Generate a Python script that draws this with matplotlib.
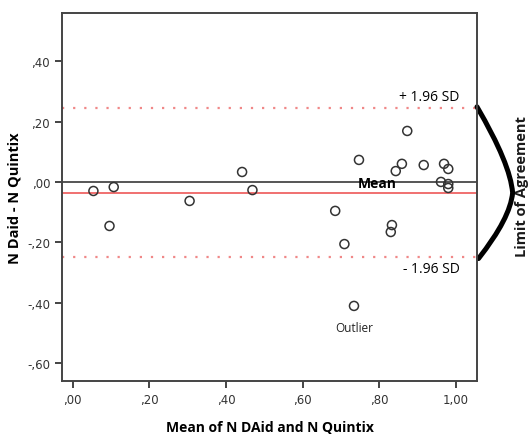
import numpy as np
import matplotlib

matplotlib.use('Agg')
import matplotlib.pyplot as plt
from matplotlib.path import Path
from matplotlib.patches import PathPatch
from matplotlib.ticker import FuncFormatter

# mean of the two methods (x) and their difference (y)
mean_vals = [0.054, 0.107, 0.096, 0.305, 0.442, 0.469, 0.685, 0.709, 0.734,
             0.747, 0.833, 0.830, 0.843, 0.859, 0.873, 0.916, 0.969, 0.961,
             0.980, 0.980, 0.980]
diff_vals = [-0.030, -0.017, -0.146, -0.063, 0.033, -0.027, -0.096, -0.206,
             -0.411, 0.073, -0.143, -0.166, 0.036, 0.060, 0.169, 0.056, 0.060,
             0.000, 0.043, -0.007, -0.020]
mean_diff = -0.036
upper_loa = 0.245
lower_loa = -0.249
outlier_idx = 8

x_ticks = [0.0, 0.2, 0.4, 0.6, 0.8, 1.0]
y_ticks = [-0.6, -0.4, -0.2, 0.0, 0.2, 0.4]


def comma_fmt(v, pos):
    s = f"{v:.2f}".replace(".", ",")
    if s.startswith("0,"):
        s = s[1:]
    elif s.startswith("-0,"):
        s = "-" + s[2:]
    if s == "-,00":
        s = ",00"
    return s


def bland_altman():
    fig = plt.figure(figsize=(5.28, 4.35), dpi=100)
    ax = fig.add_axes([0.1174, 0.1218, 0.786, 0.846])

    ax.axhline(0, color="#555555", lw=1.4, zorder=1)
    ax.axhline(mean_diff, color="#f07070", lw=1.4, zorder=1)
    for lim in (upper_loa, lower_loa):
        ax.axhline(lim, color="#f08888", lw=1.6, ls=(0, (1, 4)), zorder=1)

    ax.scatter(mean_vals, diff_vals, s=42, facecolors="none",
               edgecolors="#333333", linewidths=1.1, zorder=3)

    ax.set_xlim(-0.028, 1.055)
    ax.set_ylim(-0.66, 0.56)
    ax.set_xticks(x_ticks)
    ax.set_yticks(y_ticks)
    ax.xaxis.set_major_formatter(FuncFormatter(comma_fmt))
    ax.yaxis.set_major_formatter(FuncFormatter(comma_fmt))
    ax.tick_params(direction="out", length=5, width=1.4, color="#444444",
                   labelsize=8.5, labelcolor="#333333")
    for sp in ax.spines.values():
        sp.set_color("#444444")
        sp.set_linewidth(1.4)

    ax.set_xlabel("Mean of N DAid and N Quintix", fontsize=10,
                  fontweight="bold", family="Open Sans", labelpad=10)
    ax.set_ylabel("N Daid - N Quintix", fontsize=10.5, fontweight="bold",
                  family="Open Sans", labelpad=4)

    ax.text(1.01, upper_loa + 0.012, "+ 1.96 SD", ha="right", va="bottom",
            fontsize=10, family="Open Sans")
    ax.text(1.01, lower_loa - 0.012, "- 1.96 SD", ha="right", va="top",
            fontsize=10, family="Open Sans")
    ax.text(0.795, mean_diff + 0.008, "Mean", ha="center", va="bottom",
            fontsize=10, fontweight="bold", family="Open Sans")
    ax.text(mean_vals[outlier_idx], diff_vals[outlier_idx] - 0.05, "Outlier",
            ha="center", va="top", fontsize=8.5, family="Open Sans",
            color="#222222")

    # brace joining the two limits of agreement
    x0 = 1.055
    verts = [(x0, upper_loa + 0.004), (1.142, 0.06), (1.148, mean_diff),
             (1.142, -0.12), (x0 + 0.004, lower_loa - 0.005)]
    codes = [Path.MOVETO, Path.CURVE3, Path.CURVE3, Path.CURVE3, Path.CURVE3]
    brace = PathPatch(Path(verts, codes), fill=False, lw=3.6, color="black",
                      capstyle="round", clip_on=False)
    ax.add_patch(brace)

    fig.text(0.976, 0.57, "Limit of Agreement", rotation=90, ha="left",
             va="center", fontsize=10.5, fontweight="bold", family="Open Sans",
             color="#1a1a1a")

    fig.savefig("out.png", dpi=100)


if __name__ == '__main__':
    bland_altman()
